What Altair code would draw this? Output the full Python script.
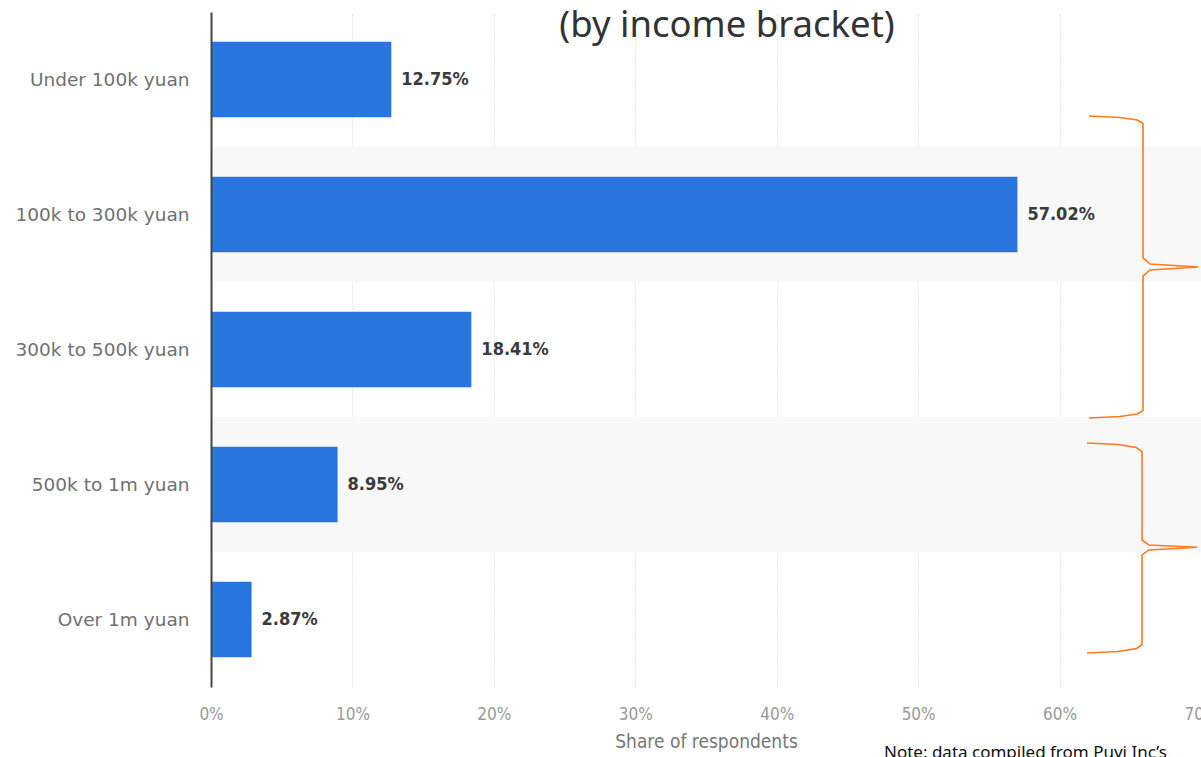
import altair as alt
import pandas as pd

# ---- data ----
categories = ["Under 100k yuan", "100k to 300k yuan", "300k to 500k yuan", "500k to 1m yuan", "Over 1m yuan"]
shares = [12.75, 57.02, 18.41, 8.95, 2.87]
x_ticks = [0, 10, 20, 30, 40, 50, 60, 70]

# shaded row bands (in row units, 0 = top of the plot)
band_start = [1, 3]
band_end = [2, 4]

# orange braces (x in % units, y in row units)
brace_id = [1] * 13 + [2] * 13
brace_x = [62.08, 64.27, 65.50, 65.90, 65.90, 66.39, 69.79, 66.39, 65.90, 65.90, 65.50, 64.27, 62.08,
           61.94, 64.13, 65.43, 65.83, 65.83, 66.32, 69.72, 66.32, 65.83, 65.83, 65.43, 64.13, 61.94]
brace_y = [0.770, 0.781, 0.800, 0.826, 1.822, 1.867, 1.889, 1.911, 1.956, 2.952, 2.978, 2.996, 3.007,
           3.193, 3.204, 3.226, 3.256, 3.911, 3.948, 3.965, 3.985, 4.022, 4.685, 4.716, 4.737, 4.748]

title_text = "(by income bracket)"
note_text = "Note: data compiled from Puyi Inc\u2019s"

BAR = "#2876DD"
ORANGE = "#FF7A1E"
NARROW = "Liberation Sans Narrow, DejaVu Sans Condensed, Roboto Condensed, sans-serif"

df = pd.DataFrame({"cat": categories, "val": shares,
                   "label": [f"{v:.2f}%" for v in shares]})
bands = pd.DataFrame({"y0": band_start, "y1": band_end, "x0": [0] * 2, "x1": [70] * 2})
braces = pd.DataFrame({"id": brace_id, "x": brace_x, "y": brace_y,
                       "i": list(range(len(brace_x)))})

xscale = alt.Scale(domain=[0, 70], nice=False, zero=True)
xaxis = alt.Axis(values=x_ticks, labelExpr="datum.value + '%'", title="Share of respondents",
                 labelFlush=False)
yq = alt.Scale(domain=[0, 5], reverse=True, nice=False, zero=False)

bg = alt.Chart(bands).mark_rect(color="#F8F8F8").encode(
    x=alt.X("x0:Q", scale=xscale, axis=xaxis),
    x2="x1:Q",
    y=alt.Y("y0:Q", scale=yq, axis=None),
    y2="y1:Q",
)

brace = alt.Chart(braces).mark_line(color=ORANGE, strokeWidth=1.6).encode(
    x=alt.X("x:Q", scale=xscale, axis=xaxis),
    y=alt.Y("y:Q", scale=yq, axis=None),
    detail="id:N",
    order="i:Q",
)

ybar = alt.Y("cat:N", sort=categories, title=None,
             scale=alt.Scale(paddingInner=0.44, paddingOuter=0.22),
             axis=alt.Axis(domain=True, domainColor="#444444", domainWidth=2,
                           ticks=False, labelPadding=22, labelColor="#707070",
                           labelFont="DejaVu Sans", labelFontSize=18.5, grid=False,
                           zindex=2))

bars = alt.Chart(df).mark_bar(color=BAR).encode(
    x=alt.X("val:Q", scale=xscale, axis=xaxis),
    y=ybar,
)

labels = alt.Chart(df).mark_text(align="left", baseline="middle", dx=10,
                                 font="DejaVu Sans Condensed, Roboto", fontWeight="bold",
                                 fontSize=18, color="#3A3A3A").encode(
    x=alt.X("val:Q", scale=xscale, axis=xaxis),
    y=ybar,
    text="label:N",
)

title = alt.Chart(pd.DataFrame({"t": [title_text]})).mark_text(
    align="center", baseline="alphabetic", font="Noto Sans", fontSize=36.5, color="#333333"
).encode(x=alt.value(516), y=alt.value(25), text="t:N")

note = alt.Chart(pd.DataFrame({"t": [note_text]})).mark_text(
    align="left", baseline="alphabetic", font="Noto Sans", fontSize=17, color="#111111"
).encode(x=alt.value(673), y=alt.value(746), text="t:N")

chart = alt.layer(
    alt.layer(bg, brace),
    alt.layer(bars, labels, title, note),
).resolve_scale(y="independent").properties(
    width=990, height=675,
    autosize=alt.AutoSizeParams(type="none"),
    padding={"left": 211, "top": 12, "right": 0, "bottom": 70},
).configure_view(stroke=None).configure_axisX(
    domain=False, ticks=False, grid=True, gridDash=[1, 2], gridColor="#CFCFCF",
    labelColor="#999999", labelFont=NARROW, labelFontSize=17, labelPadding=19,
    titleColor="#777777", titleFont=NARROW, titleFontSize=19, titleFontWeight="normal",
    titlePadding=10,
)

chart.save("out.html", embed_options={"renderer": "svg", "actions": False})
